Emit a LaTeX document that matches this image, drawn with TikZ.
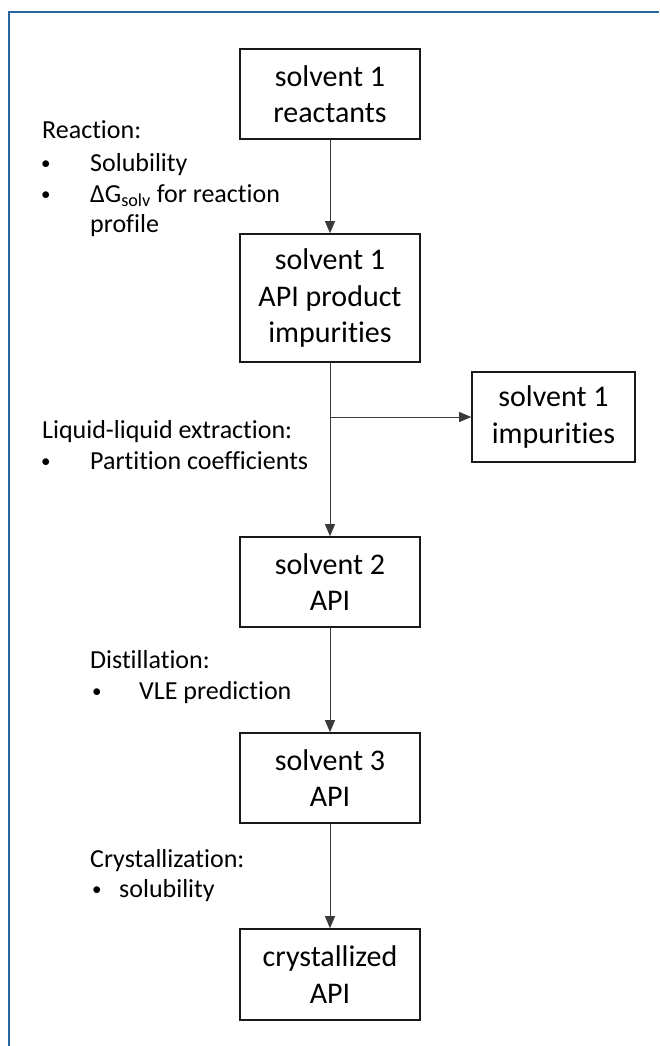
\documentclass[tikz,border=0pt]{standalone}
\usepackage{fontspec}
\setmainfont{Carlito}[Ligatures={NoCommon,NoContextual}]
\usetikzlibrary{arrows.meta}
\definecolor{frameblue}{HTML}{2A66A3}
\definecolor{linegray}{HTML}{3A3A3A}
\begin{document}
\begin{tikzpicture}[x=1pt,y=-1pt,
  box/.style={draw=black!90, line width=1.6pt, minimum width=180pt, inner sep=0pt,
    align=center, font=\fontsize{30}{36.6}\selectfont},
  lbl/.style={anchor=base west, inner sep=0pt, font=\fontsize{26}{31.5}\selectfont},
  bul/.style={anchor=base west, inner sep=0pt, font=\fontsize{19}{23}\selectfont},
  conn/.style={draw=linegray, line width=0.9pt},
  arr/.style={conn, -{Triangle[length=12pt,width=10pt]}}]
\useasboundingbox (0,0) rectangle (659,1046);
\fill[white] (0,0) rectangle (659,1046);
\draw[frameblue, line width=1.6pt] (9,1046) -- (9,12) -- (659,12);

\node[box, minimum height=90pt] (b1) at (330,94) {solvent 1\\reactants};
\node[box, minimum height=128pt] (b2) at (330,298) {solvent 1\\API product\\impurities};
\node[box, minimum height=90pt] (b3) at (330,582) {solvent 2\\API};
\node[box, minimum height=90pt] (b4) at (330,778) {solvent 3\\API};
\node[box, minimum height=91pt] (b5) at (330,974.5) {crystallized\\API};
\node[box, minimum width=163pt, minimum height=90pt] (side) at (553.5,417) {solvent 1\\impurities};

\coordinate (split) at (330,417);
\draw[arr] (b1.south) -- (b2.north);
\draw[arr] (b2.south) -- (b3.north);
\draw[arr] (split) -- (side.west);
\draw[arr] (b3.south) -- (b4.north);
\draw[arr] (b4.south) -- (b5.north);

\node[lbl] (r0) at (42,139) {Reaction:};
\node[bul] (r1b) at (41,169) {•};
\node[lbl] (r1) at (90,171) {Solubility};
\node[bul] (r2b) at (41,200) {•};
\node[lbl] (r2) at (90,202) {ΔG\textsubscript{solv} for reaction};
\node[lbl] (r3) at (90,232) {profile};

\node[lbl] (l0) at (42,438) {Liquid-liquid extraction:};
\node[bul] (l1b) at (41,467) {•};
\node[lbl] (l1) at (90,469) {Partition coefficients};

\node[lbl] (d0) at (90,668) {Distillation:};
\node[bul] (d1b) at (92,697) {•};
\node[lbl] (d1) at (139,699) {VLE prediction};

\node[lbl] (c0) at (90,867) {Crystallization:};
\node[bul] (c1b) at (92,895) {•};
\node[lbl] (c1) at (119,897) {solubility};
\end{tikzpicture}
\end{document}
